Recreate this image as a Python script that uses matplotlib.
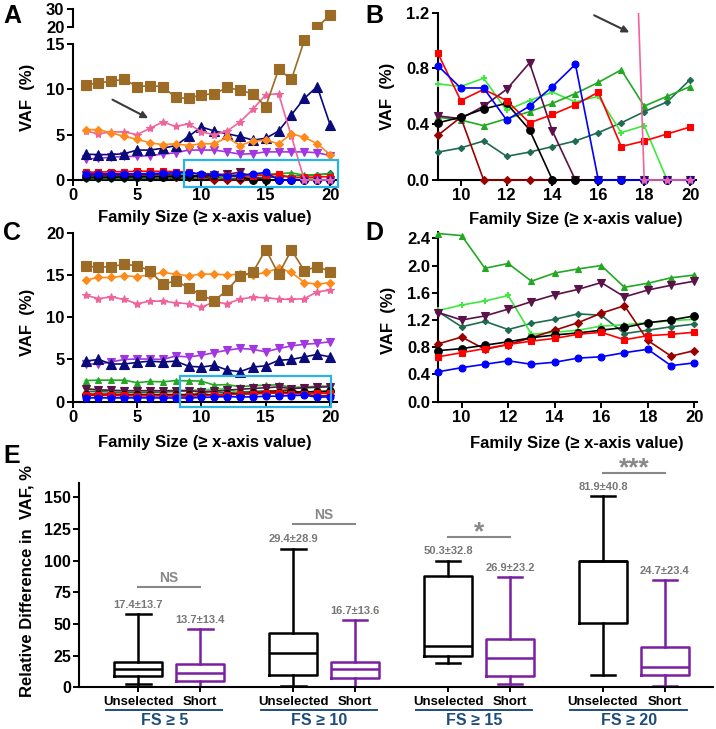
import numpy as np
import matplotlib
matplotlib.use('Agg')
import matplotlib.pyplot as plt
from matplotlib.patches import Rectangle
from matplotlib.ticker import FormatStrFormatter
import matplotlib.transforms as mtransforms

plt.rcParams['font.family'] = ['Liberation Sans', 'DejaVu Sans']
plt.rcParams['font.weight'] = 'bold'
plt.rcParams['axes.labelweight'] = 'bold'

# ---- data ----
family_size = list(range(1, 21))

# panel A (zoomed in B for family size >= 9)
a_brown = [10.5, 10.7, 10.9, 11.1, 10.3, 10.4, 10.3, 9.1, 9.0, 9.4, 9.5, 10.2, 9.9, 9.5, 8.1, 12.2, 11.1, 15.4, 20.0, 26.9]
a_orange = [5.55, 5.55, 5.2, 4.8, 4.5, 4.1, 3.9, 4.0, 3.8, 4.0, 4.0, 4.7, 3.8, 4.3, 4.4, 4.0, 5.1, 4.7, 4.0, 2.8]
a_pink = [5.4, 5.1, 5.3, 5.3, 5.0, 5.7, 6.4, 5.9, 6.2, 5.3, 5.0, 5.4, 6.4, 7.8, 9.4, 9.5, 4.8, 0, 0, 0]
a_navy = [2.85, 2.8, 2.8, 2.9, 3.3, 3.3, 3.5, 3.8, 4.8, 5.85, 5.4, 5.1, 4.8, 4.4, 4.6, 5.4, 7.2, 9.0, 10.3, 6.1]
a_violet = [2.3, 2.4, 2.5, 2.6, 2.6, 2.7, 2.85, 3.0, 3.3, 3.3, 3.3, 3.1, 2.85, 2.9, 3.1, 3.1, 3.1, 3.1, 3.0, 2.7]
a_red = [0.85, 0.88, 0.9, 0.92, 0.95, 0.97, 0.95, 0.93, 0.91, 0.57, 0.65, 0.57, 0.41, 0.47, 0.54, 0.63, 0.24, 0.28, 0.33, 0.38]
a_blue = [0.65, 0.68, 0.68, 0.66, 0.68, 0.7, 0.75, 0.78, 0.82, 0.66, 0.66, 0.43, 0.53, 0.67, 0.83, 0, 0, 0, 0, 0]
a_lgreen = [0.45, 0.5, 0.5, 0.55, 0.55, 0.6, 0.62, 0.65, 0.69, 0.67, 0.73, 0.50, 0.57, 0.63, 0.56, 0.60, 0.34, 0.39, 0, 0]
a_green = [0.3, 0.32, 0.3, 0.35, 0.35, 0.38, 0.4, 0.42, 0.45, 0.43, 0.39, 0.44, 0.49, 0.55, 0.62, 0.70, 0.79, 0.53, 0.60, 0.67]
a_teal = [0.15, 0.15, 0.16, 0.16, 0.17, 0.18, 0.18, 0.19, 0.20, 0.23, 0.28, 0.17, 0.20, 0.24, 0.28, 0.34, 0.41, 0.49, 0.56, 0.72]
a_black = [0.3, 0.3, 0.32, 0.33, 0.35, 0.36, 0.38, 0.4, 0.41, 0.45, 0.51, 0.55, 0.36, 0, 0, 0, 0, 0, 0, 0]
a_maroon = [0.6, 0.6, 0.62, 0.6, 0.62, 0.6, 0.58, 0.55, 0.46, 0.44, 0.53, 0.65, 0.84, 0.35, 0, 0, 0, 0, 0, 0]
a_dred = [0.5, 0.5, 0.5, 0.48, 0.45, 0.42, 0.38, 0.35, 0.32, 0.45, 0, 0, 0, 0, 0, 0, 0, 0, 0, 0]

# panel C (zoomed in D for family size >= 9)
c_brown = [16.06, 15.9, 16.0, 16.25, 16.1, 15.5, 13.9, 14.3, 13.5, 12.6, 11.95, 13.2, 14.9, 15.3, 18.0, 15.1, 17.95, 15.5, 16.0, 15.4]
c_orange = [14.4, 14.7, 14.7, 14.9, 14.8, 15.0, 15.3, 15.1, 14.9, 15.1, 15.1, 15.0, 15.1, 15.0, 15.3, 15.8, 15.3, 14.1, 13.9, 14.1]
c_pink = [12.6, 12.2, 12.4, 12.1, 11.6, 11.9, 11.9, 11.7, 11.6, 11.2, 11.8, 11.6, 12.15, 12.35, 12.3, 12.15, 12.1, 12.2, 13.0, 13.2]
c_violet = [4.46, 4.46, 4.7, 5.0, 5.05, 5.05, 5.0, 5.4, 5.3, 5.5, 5.8, 6.1, 6.3, 6.2, 5.9, 6.3, 6.6, 6.8, 6.9, 7.1]
c_navy = [4.8, 5.0, 4.46, 4.46, 4.65, 4.8, 4.7, 4.8, 4.2, 4.1, 4.3, 3.75, 3.55, 4.1, 4.25, 4.9, 5.0, 5.3, 5.6, 5.3]
c_green = [2.5, 2.55, 2.55, 2.55, 2.25, 2.4, 2.35, 2.5, 2.47, 2.44, 1.96, 2.03, 1.77, 1.89, 1.95, 2.0, 1.68, 1.74, 1.82, 1.86]
c_lgreen = [1.6, 1.4, 1.3, 1.3, 1.3, 1.3, 1.3, 1.32, 1.34, 1.42, 1.48, 1.56, 0.99, 1.02, 1.05, 1.11, 1.13, 1.16, 1.19, 1.21]
c_maroon = [1.5, 1.4, 1.35, 1.3, 1.3, 1.3, 1.3, 1.3, 1.31, 1.2, 1.26, 1.36, 1.47, 1.57, 1.65, 1.75, 1.54, 1.64, 1.71, 1.77]
c_teal = [1.2, 1.2, 1.15, 1.1, 1.1, 1.1, 1.15, 1.2, 1.32, 1.10, 1.18, 1.06, 1.15, 1.21, 1.29, 1.27, 1.0, 1.05, 1.10, 1.14]
c_dred = [0.9, 0.9, 0.9, 0.85, 0.85, 0.85, 0.85, 0.85, 0.85, 0.95, 0.77, 0.84, 0.94, 1.05, 1.16, 1.30, 1.41, 0.90, 0.67, 0.75]
c_black = [0.75, 0.75, 0.74, 0.74, 0.74, 0.74, 0.75, 0.75, 0.75, 0.78, 0.83, 0.88, 0.94, 0.98, 1.01, 1.05, 1.09, 1.16, 1.2, 1.26]
c_red = [0.8, 0.8, 0.75, 0.75, 0.72, 0.7, 0.7, 0.68, 0.66, 0.72, 0.78, 0.84, 0.89, 0.93, 0.99, 1.02, 0.91, 0.97, 0.99, 1.02]
c_blue = [0.45, 0.45, 0.45, 0.45, 0.45, 0.45, 0.44, 0.44, 0.44, 0.50, 0.55, 0.6, 0.55, 0.58, 0.64, 0.66, 0.72, 0.77, 0.53, 0.57]

# panel E box plots
box_labels = ['Unselected', 'Short'] * 4
group_labels = ['FS \u2265 5', 'FS \u2265 10', 'FS \u2265 15', 'FS \u2265 20']
whislo = [2.4, 0.5, 1.0, 0.5, 19.4, 2.6, 9.5, 1.3]
q1 = [9.2, 4.7, 9.7, 7.3, 25.0, 9.2, 50.7, 9.5]
med = [14.7, 11.0, 26.8, 14.7, 32.8, 23.4, 99.7, 15.8]
q3 = [20.0, 18.2, 42.6, 20.0, 87.6, 37.9, 100.0, 32.0]
whishi = [57.6, 46.0, 109.4, 52.9, 100.0, 86.8, 151.0, 84.4]
mean_sd = ['17.4\u00b113.7', '13.7\u00b113.4', '29.4\u00b128.9', '16.7\u00b113.6',
           '50.3\u00b132.8', '26.9\u00b123.2', '81.9\u00b140.8', '24.7\u00b123.4']
sig_y = [79, 129, 119, 169]
sig_text = ['NS', 'NS', '*', '***']

panel_a = dict(brown=a_brown, orange=a_orange, pink=a_pink, navy=a_navy, violet=a_violet,
               red=a_red, blue=a_blue, lgreen=a_lgreen, green=a_green, teal=a_teal,
               black=a_black, maroon=a_maroon, dred=a_dred)
panel_c = dict(brown=c_brown, orange=c_orange, pink=c_pink, navy=c_navy, violet=c_violet,
               red=c_red, blue=c_blue, lgreen=c_lgreen, green=c_green, teal=c_teal,
               black=c_black, maroon=c_maroon, dred=c_dred)

styles = {
    'teal':   dict(color='#1F6B4F', marker='D', ms=3.2),
    'lgreen': dict(color='#3EE83E', marker='+', ms=5, mew=1.4),
    'green':  dict(color='#22A822', marker='^', ms=5),
    'dred':   dict(color='#990000', marker='D', ms=4),
    'maroon': dict(color='#5A1248', marker='v', ms=6),
    'black':  dict(color='#000000', marker='o', ms=5.5),
    'red':    dict(color='#FF0000', marker='s', ms=5),
    'blue':   dict(color='#0000FF', marker='o', ms=5),
    'violet': dict(color='#A236E0', marker='v', ms=5.5),
    'navy':   dict(color='#0A0A7A', marker='^', ms=6.5),
    'pink':   dict(color='#F0649C', marker='*', ms=6),
    'orange': dict(color='#FF8A1C', marker='D', ms=4),
    'brown':  dict(color='#9C6B25', marker='s', ms=7),
}
order = ['teal', 'lgreen', 'green', 'dred', 'maroon', 'black', 'red', 'blue',
         'violet', 'navy', 'pink', 'orange', 'brown']

W, H = 716, 729
fig = plt.figure(figsize=(W / 100, H / 100), dpi=100)


def px_axes(left, top, right, bottom):
    return fig.add_axes([left / W, 1 - bottom / H, (right - left) / W, (bottom - top) / H])


def style_axis(ax, labsize=12):
    for s in ['top', 'right']:
        ax.spines[s].set_visible(False)
    for s in ['left', 'bottom']:
        ax.spines[s].set_linewidth(1.5)
    ax.tick_params(width=1.4, length=4, labelsize=labsize, pad=2)
    ax.set_facecolor('none')


def draw(ax, xs, ys, name):
    st = dict(styles[name])
    st.setdefault('mew', 0.8)
    line, = ax.plot(xs, ys, lw=1.2, zorder=3, mec=st['color'], **st)
    line.set_clip_path(Rectangle((-0.05, -0.1), 1.1, 1.1, transform=ax.transAxes))


xlab = 'Family Size (\u2265 x-axis value)'
ylab = 'VAF  (%)'

# ---- panel A ----
axA = px_axes(72.7, 34.9, 336.5, 180)
axA_top = px_axes(72.7, 9.3, 336.5, 27.3)
for name in order:
    if name == 'brown':
        draw(axA, family_size[:18], panel_a[name][:18], name)
        draw(axA_top, family_size[18:], panel_a[name][18:], name)
    else:
        draw(axA, family_size, panel_a[name], name)
style_axis(axA)
axA.set_xlim(0, 20.5)
axA.set_ylim(0, 16)
axA.spines['left'].set_bounds(0, 15)
axA.set_xticks([0, 5, 10, 15, 20])
axA.set_yticks([0, 5, 10, 15])
axA.set_xlabel(xlab, fontsize=12)
axA.set_ylabel(ylab, fontsize=12)
axA.xaxis.set_label_coords(0.5, -0.21)
axA.yaxis.set_label_coords(-0.143, 0.57)
style_axis(axA_top)
axA_top.spines['bottom'].set_visible(False)
axA_top.set_xlim(0, 20.5)
axA_top.set_ylim(20, 30)
axA_top.set_xticks([])
axA_top.set_yticks([20, 30])
axA.add_patch(Rectangle((8.65, -0.8), 11.95, 3.0, fill=False, ec='#29B4E6', lw=1.6,
                        clip_on=False, zorder=4))
axA.annotate('', xy=(6.06, 6.67), xytext=(2.9, 9.0),
             arrowprops=dict(arrowstyle='-|>', color='#3A3A3A', lw=1.5, mutation_scale=10))

# ---- panel B ----
axB = px_axes(437.8, 12.7, 695.8, 180)
for name in order:
    draw(axB, family_size[8:], panel_a[name][8:], name)
style_axis(axB)
axB.set_xlim(9, 20.25)
axB.set_ylim(0, 1.2)
axB.set_xticks([10, 12, 14, 16, 18, 20])
axB.set_yticks([0, 0.4, 0.8, 1.2])
axB.yaxis.set_major_formatter(FormatStrFormatter('%.1f'))
axB.set_xlabel(xlab, fontsize=12)
axB.set_ylabel(ylab, fontsize=12)
axB.xaxis.set_label_coords(0.535, -0.19)
axB.yaxis.set_label_coords(-0.166, 0.5)
axB.annotate('', xy=(17.46, 1.05), xytext=(15.71, 1.19),
             arrowprops=dict(arrowstyle='-|>', color='#3A3A3A', lw=1.5, mutation_scale=10),
             annotation_clip=False)

# ---- panel C ----
axC = px_axes(72.7, 232.7, 336.5, 401.7)
for name in order:
    draw(axC, family_size, panel_c[name], name)
style_axis(axC)
axC.set_xlim(0, 20.5)
axC.set_ylim(0, 20)
axC.set_xticks([0, 5, 10, 15, 20])
axC.set_yticks([0, 5, 10, 15, 20])
axC.set_xlabel(xlab, fontsize=12)
axC.set_ylabel(ylab, fontsize=12)
axC.xaxis.set_label_coords(0.5, -0.2)
axC.yaxis.set_label_coords(-0.143, 0.47)
axC.add_patch(Rectangle((8.34, -0.6), 11.76, 3.6, fill=False, ec='#29B4E6', lw=1.6,
                        clip_on=False, zorder=4))

# ---- panel D ----
axD = px_axes(438.4, 231.5, 696.6, 401.7)
for name in order:
    draw(axD, family_size[8:], panel_c[name][8:], name)
style_axis(axD)
axD.set_xlim(9, 20.1)
axD.set_ylim(0, 2.5)
axD.set_xticks([10, 12, 14, 16, 18, 20])
axD.set_yticks([0, 0.4, 0.8, 1.2, 1.6, 2.0, 2.4])
axD.yaxis.set_major_formatter(FormatStrFormatter('%.1f'))
axD.set_xlabel(xlab, fontsize=12)
axD.set_ylabel(ylab, fontsize=12)
axD.xaxis.set_label_coords(0.535, -0.2)
axD.yaxis.set_label_coords(-0.166, 0.48)

# ---- panel E ----
axE = px_axes(79.3, 483.3, 713, 687.3)
positions = [0, 2, 5, 7, 10, 12, 15, 17]
stats = [dict(whislo=whislo[i], q1=q1[i], med=med[i], q3=q3[i], whishi=whishi[i])
         for i in range(len(q1))]
box_colors = ['#000000', '#7B1FA2'] * 4
bp = axE.bxp(stats, positions=positions, widths=1.55, capwidths=0.8, showfliers=False,
             patch_artist=False, manage_ticks=False)
for i, c in enumerate(box_colors):
    bp['boxes'][i].set(color=c, lw=1.8)
    bp['medians'][i].set(color=c, lw=1.8)
    for k in (2 * i, 2 * i + 1):
        bp['whiskers'][k].set(color=c, lw=1.8)
        bp['caps'][k].set(color=c, lw=1.8)
style_axis(axE, labsize=11.5)
axE.set_xlim(-1.9, 18.55)
axE.set_ylim(0, 161)
axE.set_yticks([0, 25, 50, 75, 100, 125, 150])
axE.set_xticks(positions)
axE.set_xticklabels(box_labels, fontsize=9.5)
axE.tick_params(axis='x', length=3.5, pad=3)
axE.set_ylabel('Relative Difference in  VAF, %', fontsize=12)
axE.yaxis.set_label_coords(-0.07, 0.52)
for i, p in enumerate(positions):
    axE.text(p, whishi[i] + 3.5, mean_sd[i], ha='center', va='bottom', fontsize=8,
             color='#777777')
trans = mtransforms.blended_transform_factory(axE.transData, axE.transAxes)
for g in range(4):
    x0, x1 = positions[2 * g], positions[2 * g + 1]
    axE.plot([x0, x1], [sig_y[g], sig_y[g]], color='#888888', lw=1.5, clip_on=False)
    fs = 10 if sig_text[g] == 'NS' else 19
    off = 1.5 if sig_text[g] == 'NS' else -6
    axE.text((x0 + x1) / 2, sig_y[g] + off, sig_text[g], ha='center', va='bottom',
             fontsize=fs, color='#888888')
    axE.plot([x0 - 1.05, x1 + 0.7], [-0.111, -0.111], color='#1E4D7B', lw=1.4,
             transform=trans, clip_on=False)
    axE.text((x0 + x1) / 2 - 0.15, -0.165, group_labels[g], ha='center', va='center',
             fontsize=11.5, color='#1E4D7B', transform=trans)

# panel letters
for lab, x, y in [('A', 3, 16), ('B', 365, 16), ('C', 3, 233), ('D', 365, 233), ('E', 3, 456)]:
    fig.text(x / W, 1 - y / H, lab, fontsize=18, fontweight='bold', va='center', ha='left')

fig.savefig('out.png', dpi=100)
